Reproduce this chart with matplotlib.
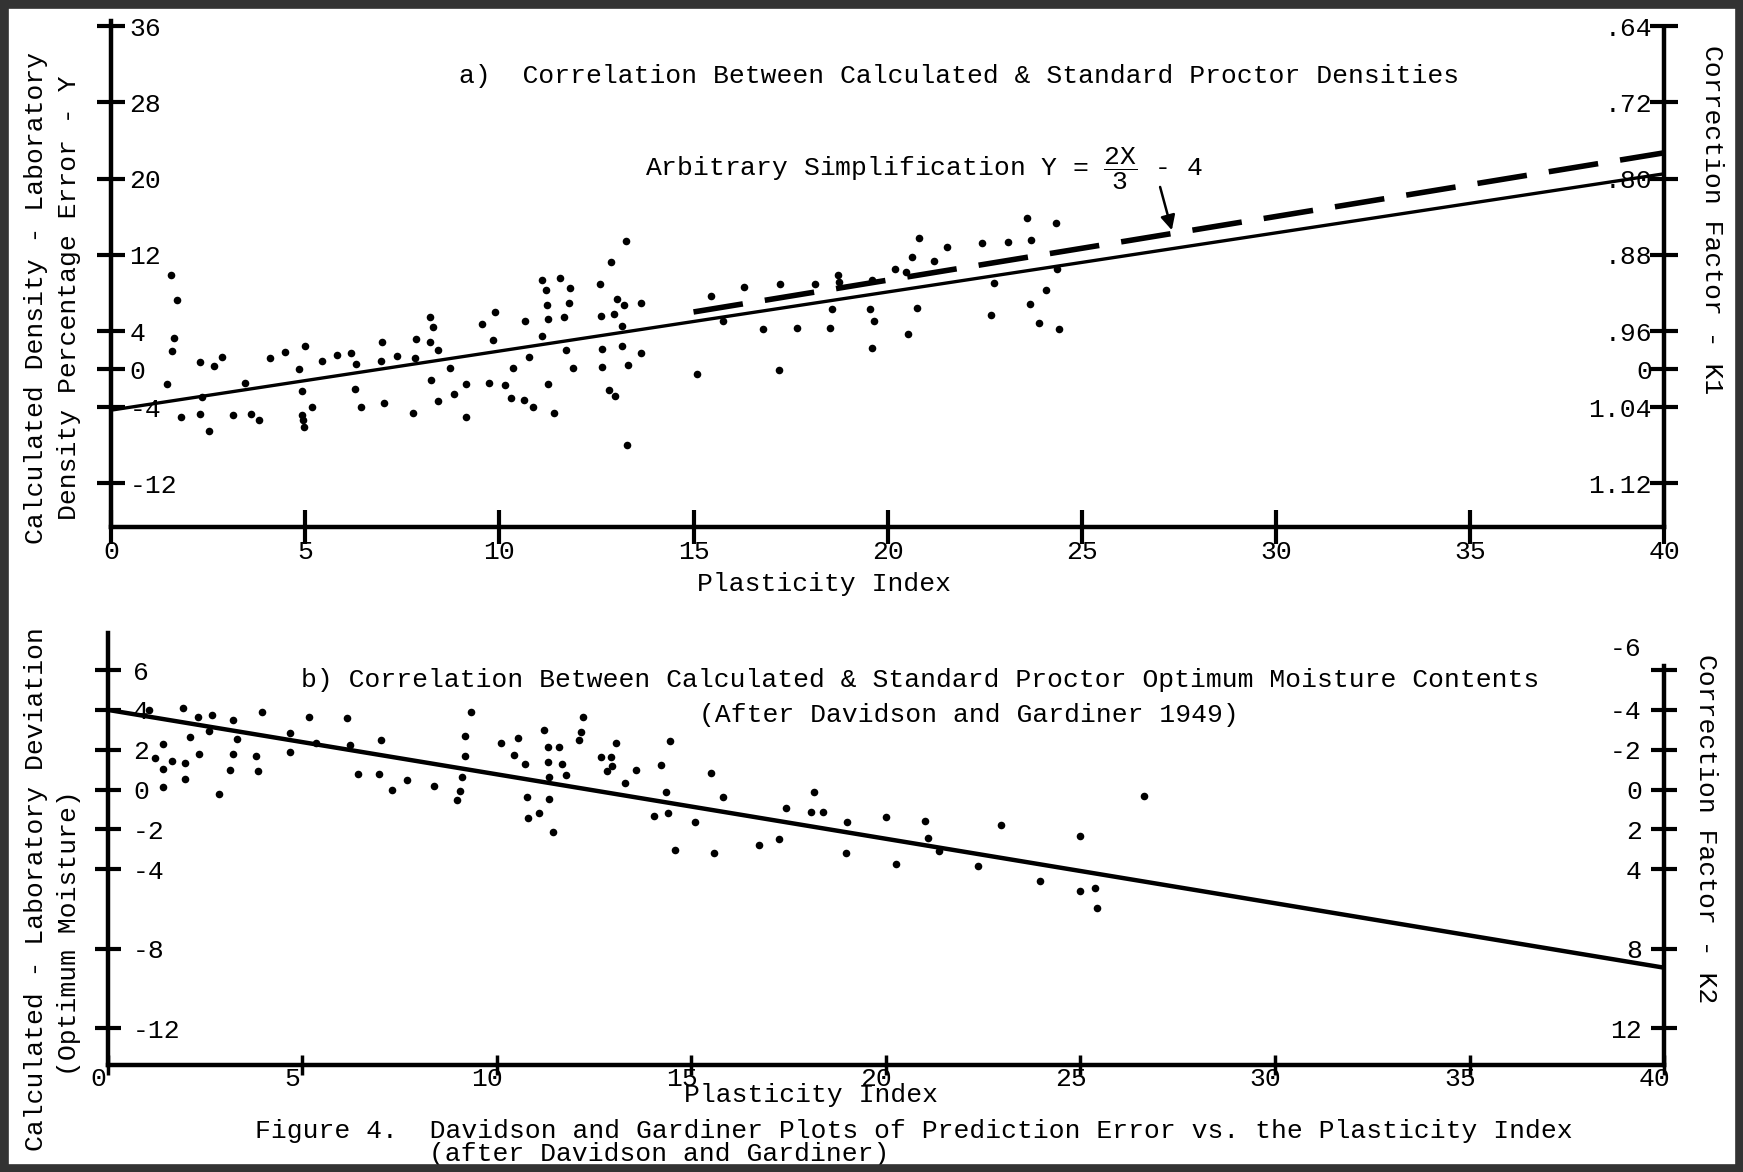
"""
Davidson and Gardiner plots of prediction error vs. plasticity index
"""
import matplotlib
matplotlib.use("Agg")
import matplotlib.pyplot as plt
from matplotlib.patches import Rectangle
from matplotlib.transforms import ScaledTranslation

plt.rcParams['font.family'] = ['Liberation Mono', 'DejaVu Sans Mono']
plt.rcParams['mathtext.fontset'] = 'custom'
plt.rcParams['mathtext.rm'] = 'Liberation Mono'
plt.rcParams['mathtext.default'] = 'regular'
FS = 19

# ---- a) density error vs plasticity index ----
pi_a = [1.54, 1.70, 1.61, 1.56, 1.44, 1.81, 2.30, 2.30, 2.52, 2.66, 2.85, 2.33,
        3.14, 3.44, 3.61, 3.82, 4.09, 4.47, 4.98, 4.85, 4.91, 4.91, 4.94, 4.96,
        5.17, 5.44, 5.82, 6.18, 6.31, 6.27, 6.44, 6.98, 6.94, 7.36, 7.03, 7.77,
        7.83, 7.86, 8.21, 8.29, 8.21, 8.43, 8.24, 8.43, 8.72, 8.84, 9.13, 9.13,
        9.54, 9.89, 9.83, 9.73, 10.14, 10.36, 10.30, 10.64, 10.86, 10.67, 10.76,
        11.09, 11.24, 11.22, 11.19, 11.09, 11.24, 11.41, 11.57, 11.81, 11.78,
        11.66, 11.71, 11.90,
        12.58, 12.87, 13.27, 13.02, 13.20, 12.95, 13.17, 13.65, 12.65, 13.15,
        13.32, 13.65, 12.82, 12.97, 13.29, 12.61, 12.65,
        15.10, 15.45, 15.77, 16.29, 16.80, 17.23, 17.21, 17.66, 18.13, 18.57,
        18.52, 18.73, 18.75, 19.54, 19.64, 19.61, 19.61, 20.20, 20.47, 20.63,
        20.82, 20.75, 20.53, 21.19, 21.52, 22.43, 22.73, 22.66, 23.10, 23.58,
        23.70, 23.67, 24.09, 23.89, 24.33, 24.36, 24.41]
err_a = [9.86, 7.23, 3.29, 1.87, -1.6, -4.97, 0.73, -4.71, -6.47, 0.28, 1.30, -2.9,
         -4.78, -1.48, -4.71, -5.35, 1.22, 1.78, 2.42, 0.02, -2.34, -4.78, -5.35, -6.1,
         -3.96, 0.85, 1.49, 1.67, 0.55, -2.08, -3.96, 2.8, 0.85, 1.41, -3.58, -4.6,
         1.22, 3.17, 5.43, 4.41, 2.8, 1.97, -1.14, -3.39, 0.1, -2.64, -1.6, -4.97,
         4.79, 6.03, 3.03, -1.48, -1.67, 0.1, -3.02, -3.28, -3.96, 5.05, 1.3,
         3.47, 5.24, 6.74, 8.28, 9.37, -1.6, -4.6, 9.56, 8.54, 6.93,
         5.46, 1.97, 0.1,
         8.95, 11.23, 13.45, 7.31, 6.69, 5.77, 4.58, 6.97, 2.12, 2.46,
         0.48, 1.68, -2.15, -2.83, -7.98, 5.6, 0.21,
         -0.47, 7.72, 5.09, 8.61, 4.17, 8.91, -0.13, 4.31, 8.95, 6.35,
         4.37, 9.87, 9.19, 6.35, 5.09, 2.26, 9.36, 10.55, 10.21, 11.81,
         13.79, 6.39, 3.69, 11.37, 12.84, 13.28, 9.08, 5.67, 13.35, 15.91,
         13.59, 6.80, 8.33, 4.82, 15.33, 10.55, 4.17]

fit_a_x = [0, 40]
fit_a_y = [-4.3, 20.5]
simp_x = [15, 40]
simp_y = [6.0, 22.7]

yt_a = [36, 28, 20, 12, 4, 0, -4, -12]
yl_a = ['36', '28', '20', '12', '4', '0', '-4', '-12']
k1_labels = ['.64', '.72', '.80', '.88', '.96', '0', '1.04', '1.12']

# ---- b) optimum moisture deviation vs plasticity index ----
pi_b = [1.41, 1.05, 1.41, 1.41, 1.65, 1.20, 1.93, 1.99, 1.99, 2.12, 2.32, 2.33,
        2.60, 2.68, 2.85, 3.13, 3.21, 3.21, 3.32, 3.81, 3.86, 3.95, 4.67, 4.67,
        5.17, 5.36, 6.15, 6.22, 6.44, 6.97, 7.03, 7.30, 7.68, 8.37, 8.97, 9.06,
        9.09, 9.19, 9.19, 9.33, 10.11, 10.53, 10.43, 10.72, 10.78, 10.81, 11.08,
        11.20, 11.31, 11.60, 11.31, 11.67, 11.34, 11.34, 11.43, 11.77, 12.15,
        12.11, 12.20,
        12.67, 12.93, 12.84, 12.96, 13.05, 13.28, 13.57, 14.23, 14.44, 14.34,
        14.39, 14.05, 14.58, 15.10, 15.51, 15.82, 15.57, 16.74, 17.26, 17.42,
        18.08, 18.38, 18.14, 18.99, 18.97, 20.01, 20.27, 21.01, 21.08, 21.36,
        22.37, 22.96, 23.95, 25.00, 24.98, 25.38, 25.42, 26.63]
dev_b = [2.27, 4.0, 1.02, 0.15, 1.44, 1.57, 4.10, 1.35, 0.52, 2.62, 3.64, 1.79,
         2.95, 3.75, -0.24, 0.96, 3.47, 1.79, 2.55, 1.70, 0.92, 3.88, 2.86, 1.88,
         3.64, 2.36, 3.60, 2.25, 0.78, 0.79, 2.49, 0.0, 0.5, 0.18, -0.52, -0.09,
         0.61, 1.66, 2.68, 3.88, 2.36, 2.58, 1.75, 1.26, -0.37, -1.42, -1.16,
         2.99, 2.16, 2.16, 1.38, 1.29, 0.61, -0.46, -2.12, 0.74, 2.90,
         2.49, 3.64,
         1.61, 1.61, 0.91, 1.16, 2.32, 0.32, 0.99, 1.24, 2.44, -0.11,
         -1.18, -1.34, -3.06, -1.61, 0.82, -0.39, -3.18, -2.78, -2.48, -0.94,
         -1.14, -1.14, -0.14, -1.61, -3.18, -1.39, -3.76, -1.59, -2.44, -3.09,
         -3.84, -1.78, -4.59, -2.36, -5.11, -4.94, -5.94, -0.31]

fit_b_x = [0, 40]
fit_b_y = [4.0, -8.95]

yt_b = [6, 4, 2, 0, -2, -4, -8, -12]
yl_b = ['6', '4', '2', '0', '-2', '-4', '-8', '-12']
k2_labels = ['-6', '-4', '-2', '0', '2', '4', '8', '12']

x_ticks = list(range(0, 41, 5))


def style_frame(ax, twin, ylim, right_top):
    ax.set_xlim(0, 40)
    ax.set_ylim(*ylim)
    twin.set_ylim(*ylim)
    ax.spines['top'].set_visible(False)
    ax.spines['right'].set_visible(False)
    for side in ('top', 'left', 'bottom'):
        twin.spines[side].set_visible(False)
    for side in ('left', 'bottom'):
        ax.spines[side].set_linewidth(3.2)
    twin.spines['right'].set_linewidth(3.2)
    twin.spines['right'].set_bounds(ylim[0], right_top)
    ax.yaxis.set_ticks_position('left')


fig = plt.figure(figsize=(17.43, 11.72), dpi=100)

# ---------------- panel a ----------------
ax1 = fig.add_axes([0.0638, 0.5503, 0.8909, 0.4315])
tw1 = ax1.twinx()
style_frame(ax1, tw1, (-16.57, 36.5), 35.8)

ax1.scatter(pi_a, err_a, s=30, color='k', linewidths=0, zorder=3)
ax1.plot(fit_a_x, fit_a_y, color='k', lw=2.4, solid_capstyle='butt')
ax1.plot(simp_x, simp_y, color='k', lw=4, dashes=(9, 4), dash_capstyle='butt')

ax1.set_xticks(x_ticks, labels=[str(v) for v in x_ticks])
ax1.tick_params(axis='x', direction='inout', length=24, width=3, pad=-3, labelsize=FS)
ax1.set_yticks(yt_a, labels=yl_a, ha='left')
ax1.tick_params(axis='y', direction='inout', length=20, width=3, pad=-23, labelsize=FS)
tw1.set_yticks(yt_a, labels=k1_labels, ha='right')
tw1.tick_params(axis='y', direction='inout', length=20, width=3, pad=-18.6, labelsize=FS)

ax1.text(13.74, 21.0, r'Arbitrary Simplification Y = $\dfrac{2X}{3}$ - 4',
         fontsize=FS, va='center', ha='left')
ax1.annotate('', xy=(27.34, 14.3), xytext=(27.0, 19.4),
             arrowprops=dict(arrowstyle='-|>', color='k', lw=1.8, mutation_scale=22))

# ---------------- panel b ----------------
ax2 = fig.add_axes([0.0619, 0.0911, 0.8928, 0.3691])
tw2 = ax2.twinx()
style_frame(ax2, tw2, (-13.85, 7.88), 6.2)

ax2.scatter(pi_b, dev_b, s=30, color='k', linewidths=0, zorder=3)
ax2.plot(fit_b_x, fit_b_y, color='k', lw=3.2, solid_capstyle='butt')

ax2.set_xticks(x_ticks, labels=[str(v) for v in x_ticks])
ax2.tick_params(axis='x', direction='inout', length=15, width=2.5, pad=-6, labelsize=FS)
shift = ScaledTranslation(-7 / 72, 0, fig.dpi_scale_trans)
for lbl in ax2.get_xticklabels():
    lbl.set_transform(lbl.get_transform() + shift)
ax2.set_yticks(yt_b, labels=yl_b, ha='left')
ax2.tick_params(axis='y', direction='inout', length=19, width=3, pad=-27.5, labelsize=FS)
tw2.set_yticks(yt_b, labels=k2_labels, ha='right')
tw2.tick_params(axis='y', direction='inout', length=19, width=3, pad=-25.5, labelsize=FS)
# the "-6" on the K2 scale sits above the end of its axis
top_lbl = tw2.get_yticklabels()[0]
top_lbl.set_transform(top_lbl.get_transform()
                      + ScaledTranslation(0, 17 / 72, fig.dpi_scale_trans))

# ---------------- figure texts ----------------
fig.text(0.5504, 0.9355, 'a)  Correlation Between Calculated & Standard Proctor Densities',
         fontsize=FS, ha='center', va='center')
fig.text(0.473, 0.5017, 'Plasticity Index', fontsize=FS, ha='center', va='center')
fig.text(0.0204, 0.7457, 'Calculated Density - Laboratory', fontsize=FS,
         rotation=90, ha='center', va='center')
fig.text(0.0396, 0.7457, 'Density Percentage Error - Y', fontsize=FS,
         rotation=90, ha='center', va='center')
fig.text(0.982, 0.813, 'Correction Factor - K1', fontsize=FS,
         rotation=270, ha='center', va='center')

fig.text(0.528, 0.4197,
         'b) Correlation Between Calculated & Standard Proctor Optimum Moisture Contents',
         fontsize=FS, ha='center', va='center')
fig.text(0.556, 0.390, '(After Davidson and Gardiner 1949)', fontsize=FS,
         ha='center', va='center')
fig.text(0.4655, 0.0657, 'Plasticity Index', fontsize=FS, ha='center', va='center')
fig.text(0.0204, 0.2413, 'Calculated - Laboratory Deviation', fontsize=FS,
         rotation=90, ha='center', va='center')
fig.text(0.0396, 0.204, '(Optimum Moisture)', fontsize=FS,
         rotation=90, ha='center', va='center')
fig.text(0.979, 0.2934, 'Correction Factor - K2', fontsize=FS,
         rotation=270, ha='center', va='center')

fig.text(0.5242, 0.0354,
         'Figure 4.  Davidson and Gardiner Plots of Prediction Error vs. the Plasticity Index',
         fontsize=FS, ha='center', va='center')
fig.text(0.378, 0.0154, '(after Davidson and Gardiner)', fontsize=FS,
         ha='center', va='center')

fig.add_artist(Rectangle((0, 0), 1, 1, transform=fig.transFigure, fill=False,
                         lw=12, ec='#333333', zorder=10))

fig.savefig('out.png', dpi=100)
